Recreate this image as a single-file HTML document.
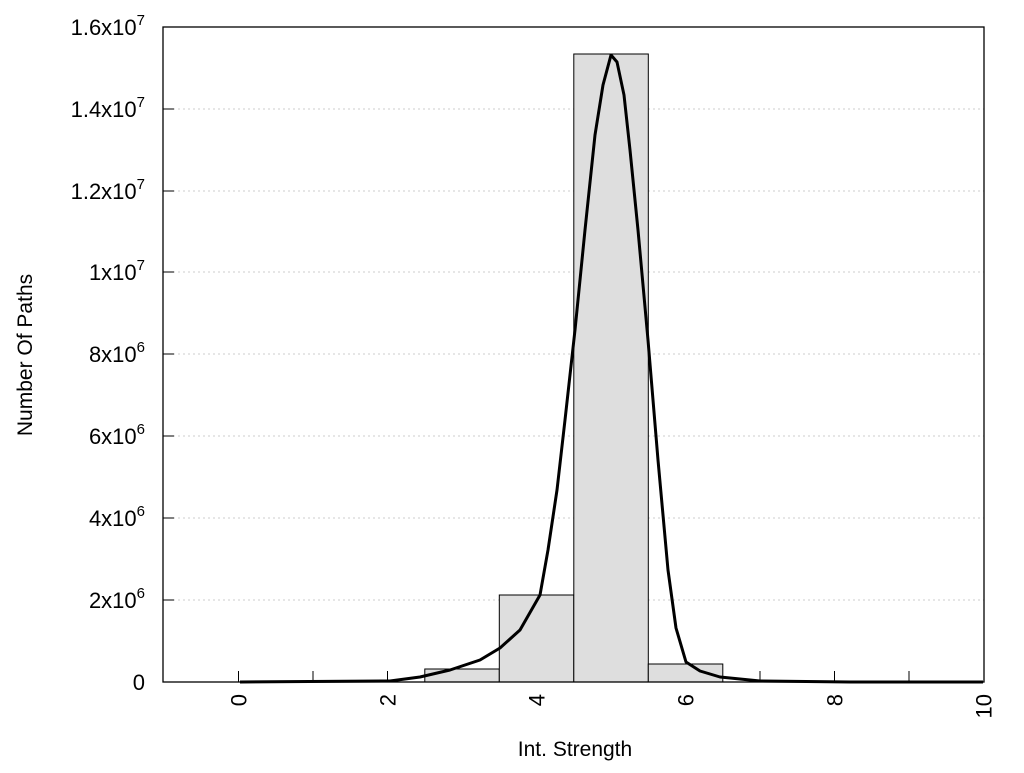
<!DOCTYPE html>
<html><head><style>body{margin:0;background:#fff}</style></head><body>
<svg width="1024" height="768" xmlns="http://www.w3.org/2000/svg" font-family="Liberation Sans, sans-serif">
<g stroke="#ccc" stroke-dasharray="2,3" stroke-width="1">
<line x1="163" x2="984" y1="600" y2="600"/><line x1="163" x2="984" y1="518" y2="518"/>
<line x1="163" x2="984" y1="436" y2="436"/><line x1="163" x2="984" y1="354" y2="354"/>
<line x1="163" x2="984" y1="272" y2="272"/><line x1="163" x2="984" y1="191" y2="191"/>
<line x1="163" x2="984" y1="109" y2="109"/>
</g>
<g stroke="#000" stroke-width="1">
<path d="M238.5 682v-11M313 682v-11M387.5 682v-11M462 682v-11M536.5 682v-11M611 682v-11M685.5 682v-11M760 682v-11M834.5 682v-11M909 682v-11"/>
<path d="M163 600h11M163 518h11M163 436h11M163 354h11M163 272h11M163 191h11M163 109h11"/>
</g>
<g fill="#dedede" stroke="#000" stroke-width="1">
<rect x="424.8" y="669" width="74.5" height="13"/>
<rect x="499.3" y="595" width="74.5" height="87"/>
<rect x="573.8" y="54" width="74.5" height="628"/>
<rect x="648.3" y="664" width="74.5" height="18"/>
</g>
<rect x="163" y="27" width="821" height="655" fill="none" stroke="#000" stroke-width="1.3"/>
<polyline fill="none" stroke="#000" stroke-width="3" stroke-linejoin="round" points="240,682 390,681 420,677 450,670 480,660 500,648 520,630 540,595 548,550 557,490 565,420 575,330 585,230 595,135 603,85 611,55 617,62 624,95 630,150 638,230 648,340 658,460 668,570 676,628 686,662 700,671 720,677 760,681 850,682 983,682"/>
<g font-size="22" text-anchor="end">
<text x="145" y="690">0</text>
<text x="145" y="608">2x10<tspan font-size="15" dy="-10">6</tspan></text>
<text x="145" y="526">4x10<tspan font-size="15" dy="-10">6</tspan></text>
<text x="145" y="444">6x10<tspan font-size="15" dy="-10">6</tspan></text>
<text x="145" y="362">8x10<tspan font-size="15" dy="-10">6</tspan></text>
<text x="145" y="280">1x10<tspan font-size="15" dy="-10">7</tspan></text>
<text x="145" y="199">1.2x10<tspan font-size="15" dy="-10">7</tspan></text>
<text x="145" y="117">1.4x10<tspan font-size="15" dy="-10">7</tspan></text>
<text x="145" y="35">1.6x10<tspan font-size="15" dy="-10">7</tspan></text>
</g>
<g font-size="22" text-anchor="end">
<text transform="translate(246.5,694) rotate(-90)">0</text>
<text transform="translate(395.5,694) rotate(-90)">2</text>
<text transform="translate(544.5,694) rotate(-90)">4</text>
<text transform="translate(693.5,694) rotate(-90)">6</text>
<text transform="translate(842.5,694) rotate(-90)">8</text>
<text transform="translate(991.5,694) rotate(-90)">10</text>
</g>
<text x="575" y="756" font-size="21" text-anchor="middle">Int. Strength</text>
<text transform="translate(32,355) rotate(-90)" font-size="21" text-anchor="middle">Number Of Paths</text>
</svg>
</body></html>
